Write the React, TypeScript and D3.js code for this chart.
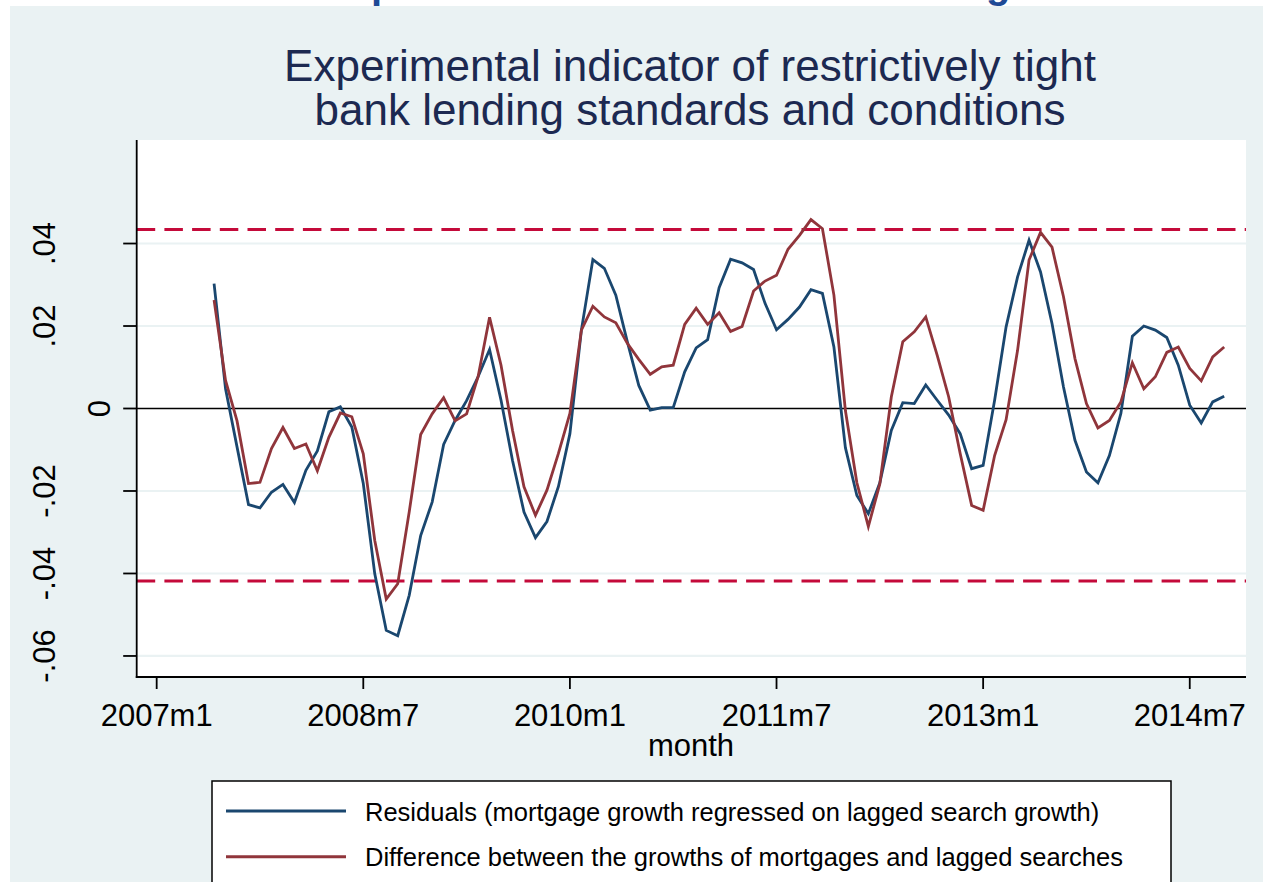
import * as d3 from "d3";

const W = 1263;
const H = 882;

// monthly values, first observation is 2007m6
const firstMonth = "2007m6";

const residuals = [
  0.0303, 0.0048, -0.0093, -0.0233, -0.0241, -0.0203, -0.0184, -0.0228, -0.0150, -0.0103,
  -0.0008, 0.0004, -0.0045, -0.0182, -0.0401, -0.0538, -0.0551, -0.0453, -0.0308, -0.0227,
  -0.0087, -0.0029, 0.0019, 0.0077, 0.0143, 0.0020, -0.0126, -0.0251, -0.0313, -0.0274,
  -0.0189, -0.0061, 0.0190, 0.0361, 0.0340, 0.0275, 0.0162, 0.0056, -0.0004, 0.0002,
  0.0002, 0.0089, 0.0147, 0.0167, 0.0293, 0.0362, 0.0353, 0.0337, 0.0255, 0.0191,
  0.0216, 0.0246, 0.0288, 0.0279, 0.0149, -0.0095, -0.0211, -0.0255, -0.0180, -0.0053,
  0.0014, 0.0012, 0.0057, 0.0020, -0.0016, -0.0061, -0.0146, -0.0138, 0.0020, 0.0198,
  0.0319, 0.0408, 0.0331, 0.0206, 0.0052, -0.0077, -0.0154, -0.0180, -0.0114, -0.0012,
  0.0175, 0.0200, 0.0190, 0.0172, 0.0105, 0.0008, -0.0035, 0.0016, 0.0030,
];

const difference = [
  0.0263, 0.0068, -0.0030, -0.0182, -0.0179, -0.0097, -0.0046, -0.0097, -0.0086, -0.0151,
  -0.0070, -0.0011, -0.0020, -0.0110, -0.0320, -0.0462, -0.0425, -0.0251, -0.0063, -0.0013,
  0.0026, -0.0030, -0.0013, 0.0077, 0.0221, 0.0105, -0.0053, -0.0190, -0.0259, -0.0198,
  -0.0109, -0.0012, 0.0190, 0.0248, 0.0222, 0.0208, 0.0158, 0.0119, 0.0083, 0.0101,
  0.0105, 0.0204, 0.0243, 0.0204, 0.0232, 0.0187, 0.0199, 0.0285, 0.0309, 0.0323,
  0.0386, 0.0420, 0.0458, 0.0436, 0.0275, -0.0005, -0.0180, -0.0286, -0.0183, 0.0028,
  0.0162, 0.0186, 0.0222, 0.0129, 0.0028, -0.0109, -0.0235, -0.0247, -0.0114, -0.0027,
  0.0141, 0.0360, 0.0427, 0.0391, 0.0271, 0.0121, 0.0012, -0.0047, -0.0029, 0.0016,
  0.0111, 0.0048, 0.0077, 0.0136, 0.0149, 0.0097, 0.0067, 0.0125, 0.0149,
];

const seriesNames = [
  "Residuals (mortgage growth regressed on lagged search growth)",
  "Difference between the growths of mortgages and lagged searches",
];
const seriesColors = ["#1a476f", "#90353b"];

const xTickLabels = ["2007m1", "2008m7", "2010m1", "2011m7", "2013m1", "2014m7"];
const yTicks = [-0.06, -0.04, -0.02, 0, 0.02, 0.04];
const yTickLabels = ["-.06", "-.04", "-.02", "0", ".02", ".04"];

// upper / lower reference lines
const limits = [0.0434, -0.0418];

const titleLines = ["Experimental indicator of restrictively tight", "bank lending standards and conditions"];

const font = "'Liberation Sans', Arial, Helvetica, sans-serif";
const bg = "#eaf2f3";

// month string like 2008m7 -> months since 2007m1
const monthIndex = (s: string) => {
  const [yr, mo] = s.split("m").map(Number);
  return (yr - 2007) * 12 + (mo - 1);
};

export default function App() {
  const left = 136.7;
  const right = 1246;
  const top = 140;
  const bottom = 677;

  const x = d3.scaleLinear().domain([-1.74, 94.9]).range([left, right]);
  const y = d3.scaleLinear().domain([-0.0651, 0.0651]).range([bottom, top]);

  const start = monthIndex(firstMonth);
  const line = d3
    .line<number>()
    .x((_, k) => x(start + k))
    .y((d) => y(d));

  const series = [residuals, difference];

  return (
    <div style={{ position: "absolute", left: 0, top: 0 }}>
      <svg width={W} height={H} viewBox={`0 0 ${W} ${H}`} style={{ display: "block" }}>
        <rect x={0} y={0} width={W} height={H} fill="#fff" />
        {/* heading of the page above, cut off */}
        <g fill="#1f4a96" fontFamily={font} fontWeight="bold" fontSize={40}>
          <text x={371} y={-2}>p</text>
          <text x={986} y={-2}>g</text>
        </g>
        <rect x={10} y={6} width={W - 10} height={H - 6} fill={bg} />

        {/* title */}
        <g fill="#1c2951" fontFamily={font} fontSize={44} textAnchor="middle">
          {titleLines.map((t, i) => (
            <text key={t} x={690} y={81 + i * 43.5}>{t}</text>
          ))}
        </g>

        {/* plot region */}
        <rect x={left} y={top} width={right - left} height={bottom - top} fill="#fff" />
        {yTicks.filter((t) => t !== 0).map((t) => (
          <line key={t} x1={left} x2={right} y1={y(t)} y2={y(t)} stroke={bg} strokeWidth={2.2} />
        ))}
        <line x1={left} x2={right} y1={y(0)} y2={y(0)} stroke="#000" strokeWidth={1.6} />
        {limits.map((v) => (
          <line
            key={v}
            x1={left}
            x2={right}
            y1={y(v)}
            y2={y(v)}
            stroke="#c40a3a"
            strokeWidth={3}
            strokeDasharray="18.5 9.2"
          />
        ))}

        {series.map((s, i) => (
          <path
            key={i}
            d={line(s) ?? ""}
            fill="none"
            stroke={seriesColors[i]}
            strokeWidth={2.8}
            strokeLinejoin="miter"
          />
        ))}

        {/* axes */}
        <g stroke="#000" strokeWidth={1.8}>
          <line x1={left} x2={left} y1={top} y2={bottom + 0.9} />
          <line x1={left - 0.9} x2={right} y1={bottom} y2={bottom} />
          {yTicks.map((t) => (
            <line key={t} x1={left - 13.5} x2={left} y1={y(t)} y2={y(t)} />
          ))}
          {xTickLabels.map((l) => (
            <line key={l} x1={x(monthIndex(l))} x2={x(monthIndex(l))} y1={bottom} y2={bottom + 12} />
          ))}
        </g>
        <g fontFamily={font} fontSize={31} fill="#000" textAnchor="middle">
          {yTicks.map((t, i) => (
            <text key={t} transform={`translate(${t === 0 ? 110 : 55},${y(t)}) rotate(-90)`}>
              {yTickLabels[i]}
            </text>
          ))}
          {xTickLabels.map((l) => (
            <text key={l} x={x(monthIndex(l))} y={726}>{l}</text>
          ))}
          <text x={691} y={756}>month</text>
        </g>

        {/* legend */}
        <rect x={212} y={781} width={959} height={130} fill="#fff" stroke="#000" strokeWidth={1.5} />
        {seriesNames.map((n, i) => (
          <g key={n}>
            <line
              x1={226}
              x2={346}
              y1={811 + i * 45.7}
              y2={811 + i * 45.7}
              stroke={seriesColors[i]}
              strokeWidth={3}
            />
            <text x={365} y={820.5 + i * 45.7} fontFamily={font} fontSize={25.5} fill="#000">
              {n}
            </text>
          </g>
        ))}
      </svg>
    </div>
  );
}
